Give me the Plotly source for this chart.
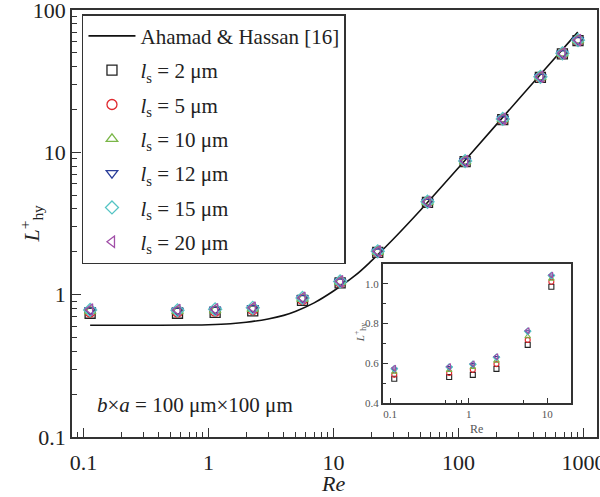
import plotly.graph_objects as go

# ---------------- data ----------------
re_pts = [0.113, 0.565, 1.13, 2.26, 5.65, 11.3, 22.6, 56.5, 113, 226, 452, 678, 904]
L_s2 = [0.74, 0.74, 0.75, 0.77, 0.91, 1.21, 1.98, 4.45, 8.6, 17.0, 33.6, 49.2, 61.0]
L_s5 = [0.755, 0.755, 0.765, 0.785, 0.925, 1.22, 1.99, 4.47, 8.62, 17.05, 33.7, 49.3, 61.1]
L_s10 = [0.765, 0.765, 0.775, 0.795, 0.935, 1.23, 2.0, 4.48, 8.65, 17.1, 33.8, 49.5, 61.3]
L_s12 = [0.775, 0.772, 0.785, 0.805, 0.945, 1.235, 2.01, 4.49, 8.67, 17.15, 33.9, 49.6, 61.4]
L_s15 = [0.78, 0.776, 0.788, 0.808, 0.948, 1.238, 2.015, 4.495, 8.68, 17.18, 33.95, 49.65, 61.45]
L_s20 = [0.785, 0.78, 0.79, 0.81, 0.95, 1.24, 2.02, 4.5, 8.7, 17.2, 34.0, 49.7, 61.5]

curve_re = [0.113, 0.2, 0.4, 0.7, 1.0, 1.5, 2.0, 3.0, 4.0, 5.0, 7.0, 10, 15, 20, 30, 50, 100, 200, 500, 900]
curve_L = [0.61, 0.61, 0.61, 0.612, 0.615, 0.625, 0.64, 0.675, 0.715, 0.765, 0.875, 1.06, 1.37, 1.72, 2.45, 3.95, 7.8, 15.6, 39.0, 70.0]

inset_re = [0.113, 0.565, 1.13, 2.26, 5.65, 11.3]
in_s2 = [0.522, 0.531, 0.542, 0.572, 0.693, 0.986]
in_s5 = [0.542, 0.551, 0.567, 0.596, 0.718, 1.011]
in_s10 = [0.556, 0.565, 0.580, 0.612, 0.735, 1.025]
in_s12 = [0.570, 0.578, 0.592, 0.628, 0.758, 1.039]
in_s15 = [0.572, 0.581, 0.595, 0.631, 0.762, 1.042]
in_s20 = [0.576, 0.584, 0.598, 0.634, 0.765, 1.045]

labels = ["2", "5", "10", "12", "15", "20"]
main_series = [L_s2, L_s5, L_s10, L_s12, L_s15, L_s20]
inset_series = [in_s2, in_s5, in_s10, in_s12, in_s15, in_s20]
symbols = ["square-open", "circle-open", "triangle-up-open", "triangle-down-open", "diamond-open", "triangle-left-open"]
colors = ["#222222", "#e0282e", "#7ab648", "#2b3e9a", "#55c4c4", "#a14fa8"]

x_ticks = [0.1, 1, 10, 100, 1000]
y_ticks = [0.1, 1, 10, 100]

FONT = "Liberation Serif"
AX = "#333333"

fig = go.Figure()

fig.add_trace(go.Scatter(
    x=curve_re, y=curve_L, mode="lines", line=dict(color="#111111", width=1.6, shape="spline"),
    name="Ahamad &amp; Hassan [16]", legendgroup="g0"))

for i, (lab, ys) in enumerate(zip(labels, main_series)):
    fig.add_trace(go.Scatter(
        x=re_pts, y=ys, mode="markers",
        marker=dict(symbol=symbols[i], size=10, color=colors[i], line=dict(width=1.3, color=colors[i])),
        name=f"<i>l</i><sub>s</sub> = {lab} μm", legendgroup=f"g{i+1}"))

for i, ys in enumerate(inset_series):
    fig.add_trace(go.Scatter(
        x=inset_re, y=ys, mode="markers", xaxis="x2", yaxis="y2", showlegend=False,
        marker=dict(symbol=symbols[i], size=5, color=colors[i], line=dict(width=1.1, color=colors[i]))))

main_minor_x = [m * 10 ** e for e in range(-2, 4) for m in range(2, 10)]
main_minor_y = [m * 10 ** e for e in range(-2, 3) for m in range(2, 10)]

fig.update_layout(
    width=600, height=497,
    margin=dict(l=72, r=3, t=10, b=60, autoexpand=False),
    paper_bgcolor="white", plot_bgcolor="white",
    font=dict(family=FONT, color="#222222", size=20),
    showlegend=True,
    legend=dict(x=0.019, y=0.99, xanchor="left", yanchor="top",
                bgcolor="white", bordercolor=AX, borderwidth=1.5,
                font=dict(family=FONT, size=21, color="#222222"),
                tracegroupgap=4, itemwidth=47),
    xaxis=dict(type="log", range=[-1.092, 3.108], tickvals=x_ticks, ticktext=["0.1", "1", "10", "100", "1000"],
               ticks="inside", ticklen=9, tickwidth=1.3, tickcolor=AX, ticklabeloverflow="allow",
               ticklabelstandoff=5,
               minor=dict(ticks="inside", ticklen=5, tickwidth=1.1, tickcolor=AX, tickvals=main_minor_x),
               showline=True, linecolor=AX, linewidth=1.6, mirror=True, showgrid=False, zeroline=False,
               tickfont=dict(family=FONT, size=22), automargin=False),
    yaxis=dict(type="log", range=[-1.0005, 2.0005], tickvals=y_ticks, ticktext=["0.1", "1", "10", "100"],
               ticks="inside", ticklen=9, tickwidth=1.3, tickcolor=AX, ticklabeloverflow="allow",
               minor=dict(ticks="inside", ticklen=5, tickwidth=1.1, tickcolor=AX, tickvals=main_minor_y),
               showline=True, linecolor=AX, linewidth=1.6, mirror=True, showgrid=False, zeroline=False,
               tickfont=dict(family=FONT, size=22), automargin=False),
    xaxis2=dict(type="log", range=[-1.093, 1.30], domain=[0.592, 0.950], anchor="y2",
                tickvals=[0.1, 1, 10], ticktext=["0.1", "1", "10"],
                ticks="inside", ticklen=5, tickwidth=1, tickcolor=AX,
                minor=dict(ticks="inside", ticklen=3, tickwidth=1, tickcolor=AX, tickvals=[0.5, 0.7, 0.8, 5]),
                showline=True, linecolor=AX, linewidth=1.5, mirror=True, showgrid=False, zeroline=False,
                tickfont=dict(family=FONT, size=11, color="#555555"), automargin=False),
    yaxis2=dict(range=[0.4, 1.1], domain=[0.0796, 0.405], anchor="x2",
                tickvals=[0.4, 0.6, 0.8, 1.0], ticktext=["0.4", "0.6", "0.8", "1.0"],
                ticks="inside", ticklen=5, tickwidth=1, tickcolor=AX,
                minor=dict(ticks="inside", ticklen=3, tickwidth=1, tickcolor=AX, tickvals=[0.5, 0.7, 0.9]),
                showline=True, linecolor=AX, linewidth=1.5, mirror=True, showgrid=False, zeroline=False,
                tickfont=dict(family=FONT, size=11, color="#555555"), automargin=False),
    annotations=[
        dict(text="<i>b</i>×<i>a</i> = 100 μm×100 μm", xref="paper", yref="paper",
             x=0.043, y=0.075, xanchor="left", yanchor="middle", showarrow=False,
             font=dict(family=FONT, size=21, color="#222222")),
        # main axis titles
        dict(text="<i>Re</i>", xref="paper", yref="paper", x=0.497, y=-0.109,
             xanchor="center", yanchor="middle", showarrow=False,
             font=dict(family=FONT, size=22, color="#222222")),
        dict(text="<i>L</i><sup>+</sup><sub>hy</sub>", xref="paper", yref="paper", x=-0.078, y=0.5,
             xanchor="center", yanchor="middle", textangle=-90, showarrow=False,
             font=dict(family=FONT, size=22, color="#222222")),
        # inset axis titles
        dict(text="Re", xref="paper", yref="paper", x=0.77, y=0.0796, yshift=-26,
             xanchor="center", yanchor="middle", showarrow=False,
             font=dict(family=FONT, size=12, color="#555555")),
        dict(text="<i>L</i><sup>+</sup><sub>hy</sub>", xref="paper", yref="paper", x=0.592, xshift=-22,
             y=0.245, xanchor="center", yanchor="middle", textangle=-90, showarrow=False,
             font=dict(family=FONT, size=11, color="#555555")),
    ],
)

fig.write_html("out.html", config={"displayModeBar": False},
               post_script="document.body.style.margin='0';document.body.style.overflow='hidden';")
